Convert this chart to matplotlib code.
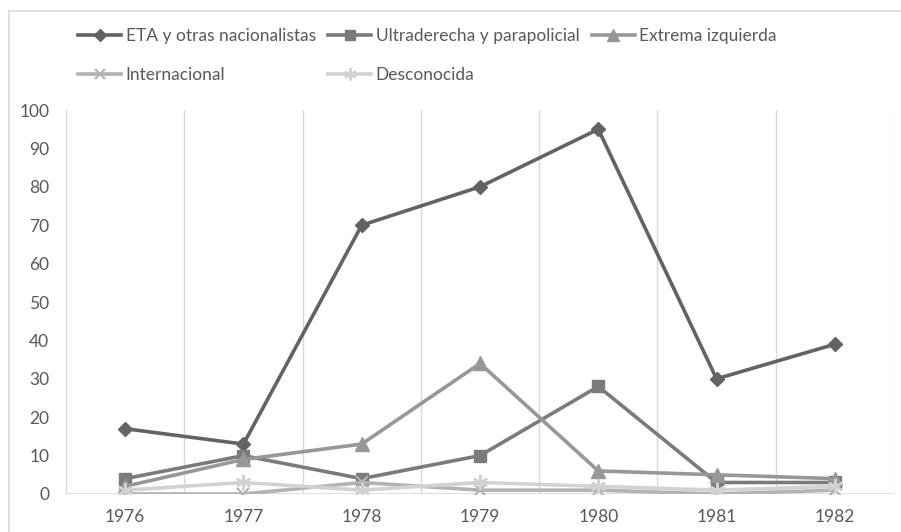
import matplotlib
matplotlib.use('Agg')
import matplotlib.pyplot as plt
from matplotlib.lines import Line2D

plt.rcParams['font.family'] = ['Lato', 'DejaVu Sans']

# datos
years = ['1976', '1977', '1978', '1979', '1980', '1981', '1982']
eta = [17, 13, 70, 80, 95, 30, 39]
ultra = [4, 10, 4, 10, 28, 3, 3]
extrema = [2, 9, 13, 34, 6, 5, 4]
internacional = [0, 0, 3, 1, 1, 0, 1]
desconocida = [1, 3, 1, 3, 2, 1, 2]

series = [
    ('ETA y otras nacionalistas', eta, '#636363', 'D', 7.5),
    ('Ultraderecha y parapolicial', ultra, '#7b7b7b', 's', 9),
    ('Extrema izquierda', extrema, '#979797', '^', 10),
    ('Internacional', internacional, '#b3b3b3', 'x', 9),
    ('Desconocida', desconocida, '#d2d2d2', (6, 2, 0), 11),
]

W, H = 901, 532
fig = plt.figure(figsize=(W / 100, H / 100), dpi=100)
ax = fig.add_axes([66 / W, 1 - 494 / H, (894 - 66) / W, (494 - 110) / H])

x = list(range(len(years)))
handles = []
for name, vals, col, mk, ms in series:
    mew = 1.5 if mk in ('x', (6, 2, 0)) else 1
    h, = ax.plot(x, vals, color=col, lw=2.6, marker=mk, markersize=ms,
                 markeredgecolor=col, markerfacecolor=col, markeredgewidth=mew,
                 label=name, zorder=3)
    handles.append(h)

ax.set_xlim(-0.5, len(years) - 0.5)
ax.set_ylim(0, 100)
ax.set_yticks(range(0, 101, 10))
ax.set_xticks(x)
ax.set_xticklabels(years)
for b in [i - 0.5 for i in range(len(years) + 1)]:
    ax.axvline(b, color='#d9d9d9', lw=1, zorder=1)
ax.axhline(0, color='#d9d9d9', lw=1.2, zorder=2)
for s in ax.spines.values():
    s.set_visible(False)
ax.tick_params(axis='both', length=0, colors='#595959', labelsize=12.5)
ax.tick_params(axis='y', pad=12)
ax.tick_params(axis='x', pad=11)

# orden por filas (matplotlib llena por columnas)
order = [0, 3, 1, 4, 2]
leg = fig.legend([handles[i] for i in order], [series[i][0] for i in order],
                 ncol=3, loc='upper left', bbox_to_anchor=(78 / W, 1 - 28 / H),
                 frameon=False, fontsize=12.5, handlelength=2.5, handletextpad=0.25,
                 columnspacing=0.7, labelspacing=1.35, borderpad=0, borderaxespad=0,
                 markerscale=0.8)
for t in leg.get_texts():
    t.set_color('#595959')

# borde del área del gráfico
fig.add_artist(Line2D([9 / W, 9 / W], [0, 1 - 11 / H], color='#d9d9d9', lw=1.2,
                      transform=fig.transFigure))
fig.add_artist(Line2D([9 / W, 1], [1 - 11 / H, 1 - 11 / H], color='#d9d9d9', lw=1.2,
                      transform=fig.transFigure))

fig.savefig('out.png', dpi=100)
